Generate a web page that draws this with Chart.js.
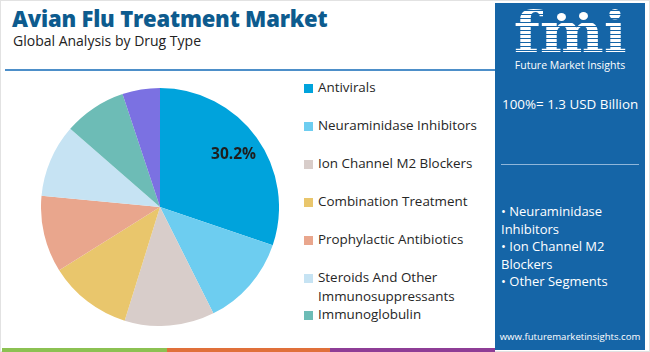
<!DOCTYPE html>
<html>
<head>
<meta charset="utf-8">
<script src="https://cdn.jsdelivr.net/npm/chart.js@4/dist/chart.umd.min.js"></script>
<style>
  body { margin: 0; width: 650px; height: 352px; overflow: hidden; background: #fff; font-family: "Open Sans", sans-serif; }
  #frame { position: absolute; left: 0; top: 0; width: 648px; height: 350px; border: 1px solid #e2e2e2; }
  #title { position: absolute; left: 12px; top: 3px; font-size: 22px; font-weight: 800; color: #0d5b8e; letter-spacing: -0.2px; }
  #subtitle { position: absolute; left: 13px; top: 31px; font-size: 14px; color: #222; }
  #rule { position: absolute; left: 5px; top: 69px; width: 490px; height: 2px; background: #4d8fc9; }
  #pieBox { position: absolute; left: 41px; top: 88px; width: 238px; height: 238px; }
  #legend { position: absolute; left: 304px; top: 76px; width: 190px; }
  .item { position: absolute; left: 0; font-size: 13.4px; color: #262626; line-height: 19px; padding-left: 14px; white-space: nowrap; }
  .item span.box { position: absolute; left: 0; top: 6px; width: 9px; height: 9px; }
  #panel { position: absolute; left: 495px; top: 3px; width: 150px; height: 347px; background: #1565a7; color: #fff; }
  #logo { position: absolute; left: 0; top: 4px; width: 150px; text-align: center; }
  #fmi { font-family: "DejaVu Serif", serif; font-weight: bold; font-size: 56px; line-height: 50px; letter-spacing: 0px;
         display: inline-block; transform: scaleX(1.08);
         background: repeating-linear-gradient(#fff 0 3px, #1565a7 3px 4px); -webkit-background-clip: text; color: transparent; }
  #fmiSub { font-size: 10.5px; margin-top: 1px; }
  .dot { position: absolute; width: 9px; height: 8px; border-radius: 50%; background: #fff; }
  #total { position: absolute; left: 7px; top: 92px; font-size: 13.4px; }
  #sep { position: absolute; left: 6px; top: 161px; width: 138px; height: 1px; background: #8fb6da; }
  #bullets { position: absolute; left: 6px; top: 200px; width: 140px; font-size: 13px; line-height: 17.5px; }
  #site { position: absolute; left: 0; width: 150px; top: 327px; text-align: center; font-size: 9.6px; }
  .stripe { position: absolute; top: 348px; height: 4px; }
</style>
</head>
<body>
<div id="frame"></div>
<div id="title">Avian Flu Treatment Market</div>
<div id="subtitle">Global Analysis by Drug Type</div>
<div id="rule"></div>
<div id="pieBox"><canvas id="chart" width="238" height="238"></canvas></div>
<div id="legend"></div>
<div id="panel">
  <div id="logo"><div id="fmi">fmi</div><div id="fmiSub">Future Market Insights</div></div>
  <div class="dot" style="left:62px;top:10px"></div>
  <div class="dot" style="left:84px;top:9px"></div>
  <div id="total">100%= 1.3 USD Billion</div>
  <div id="sep"></div>
  <div id="bullets">• Neuraminidase Inhibitors<br>• Ion Channel M2 Blockers<br>• Other Segments</div>
  <div id="site">www.futuremarketinsights.com</div>
</div>
<div class="stripe" style="left:2px;width:165px;background:#8cc152"></div>
<div class="stripe" style="left:167px;width:163px;background:#e0703a"></div>
<div class="stripe" style="left:330px;width:165px;background:#8e3d96"></div>

<script>
const segments = ['Antivirals', 'Neuraminidase Inhibitors', 'Ion Channel M2 Blockers', 'Combination Treatment',
  'Prophylactic Antibiotics', 'Steroids And Other Immunosuppressants', 'Immunoglobulin', 'Others'];
const shares = [30.2, 12.4, 12.2, 11.3, 10.4, 9.9, 8.5, 5.1];
const sliceColors = ['#00a3dc', '#6dcdf0', '#d8cdca', '#e9c66c', '#e9a68d', '#c6e3f3', '#6dbcb6', '#7b71e2'];
const legendCount = 7;
const labelledSlices = [0];

// legend rows (html), steroids wraps onto two lines
const legendTops = [2, 40, 78, 116, 154, 192, 229];
const legendEl = document.getElementById('legend');
for (let i = 0; i < legendCount; i++) {
  const d = document.createElement('div');
  d.className = 'item';
  d.style.top = legendTops[i] + 'px';
  d.innerHTML = '<span class="box" style="background:' + sliceColors[i] + '"></span>' +
    (i === 5 ? 'Steroids And Other<br>Immunosuppressants' : segments[i]);
  legendEl.appendChild(d);
}

const pctLabels = {
  id: 'pctLabels',
  afterDatasetsDraw(chart) {
    const ctx = chart.ctx;
    const meta = chart.getDatasetMeta(0);
    labelledSlices.forEach(i => {
      const arc = meta.data[i];
      const mid = (arc.startAngle + arc.endAngle) / 2;
      const r = arc.outerRadius * 0.76;
      ctx.save();
      ctx.font = 'bold 15.5px "Open Sans", sans-serif';
      ctx.fillStyle = '#1e1e1e';
      ctx.textAlign = 'center';
      ctx.textBaseline = 'middle';
      ctx.fillText(shares[i].toFixed(1) + '%', arc.x + Math.cos(mid) * r, arc.y + Math.sin(mid) * r);
      ctx.restore();
    });
  }
};

new Chart(document.getElementById('chart'), {
  type: 'pie',
  data: {
    labels: segments,
    datasets: [{ data: shares, backgroundColor: sliceColors, borderWidth: 0 }]
  },
  options: {
    responsive: false,
    animation: false,
    layout: { padding: 0 },
    plugins: { legend: { display: false }, tooltip: { enabled: false } }
  },
  plugins: [pctLabels]
});
</script>
</body>
</html>
